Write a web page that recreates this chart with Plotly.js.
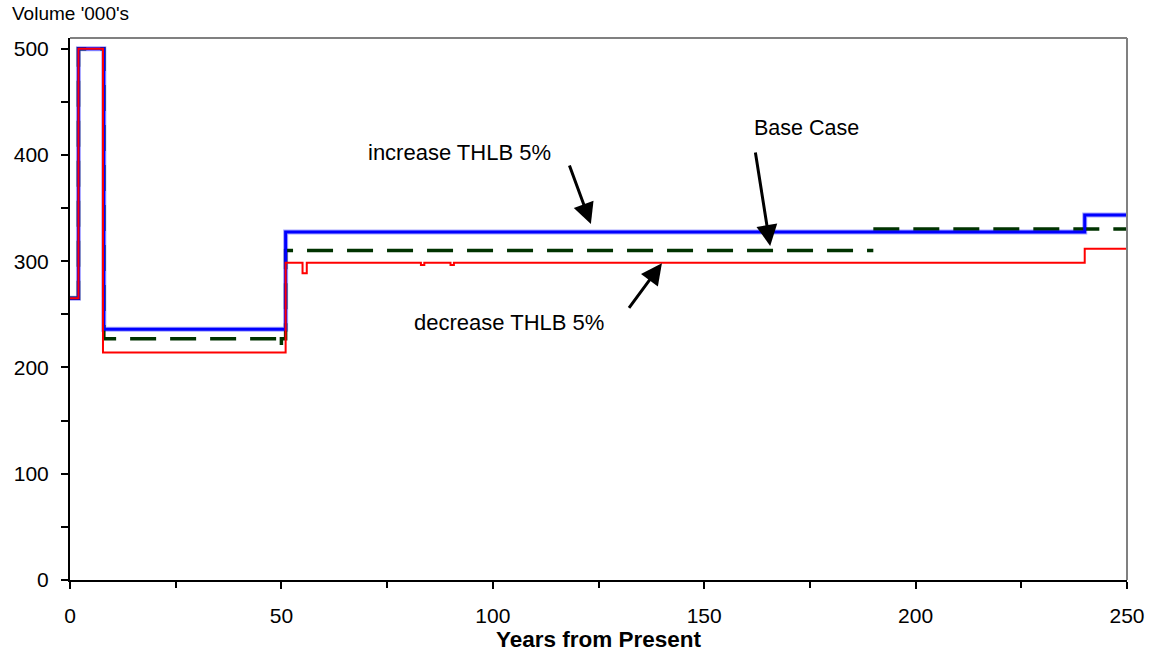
<!DOCTYPE html>
<html>
<head>
<meta charset="utf-8">
<script src="https://cdn.plot.ly/plotly-3.0.1.min.js"></script>
<style>html,body{margin:0;padding:0;background:#fff;}#chart{width:1158px;height:655px;}</style>
</head>
<body>
<div id="chart"></div>
<script>
// Years from present where each series changes level, and the level (Volume '000's)
const yearsIncrease = [0, 2, 8, 51, 240, 250];
const volIncrease   = [265, 500, 236, 327.5, 343.5, 343.5];

const yearsBase = [0, 2, 8, 49.2, 50, 51, 190, 190, 190, 250];
const volBase   = [265, 500, 227, 220, 227, 310, 310, null, 330.3, 330.3];

const yearsDecrease = [0, 2, 7.8, 51, 55, 56, 83, 83.8, 90, 90.8, 240, 250];
const volDecrease   = [265, 500, 214, 298.6, 288.6, 298.6, 296.5, 298.6, 296.5, 298.6, 311.8, 311.8];

const xTickVals = [0, 50, 100, 150, 200, 250];
const yTickVals = [0, 100, 200, 300, 400, 500];

const FONT = '"Liberation Sans", Arial, sans-serif';

const traces = [
  {x: yearsIncrease, y: volIncrease, mode: 'lines', line: {shape: 'hv', color: 'rgba(0,0,255,0.35)', width: 5}, hoverinfo: 'skip', showlegend: false},
  {x: yearsBase, y: volBase, mode: 'lines', name: 'Base Case', connectgaps: false, line: {shape: 'hv', color: '#003300', width: 3.5, dash: '26px,14px'}},
  {x: yearsIncrease, y: volIncrease, mode: 'lines', name: 'increase THLB 5%', line: {shape: 'hv', color: '#0000FF', width: 3}},
  {x: yearsDecrease, y: volDecrease, mode: 'lines', name: 'decrease THLB 5%', line: {shape: 'hv', color: '#FF0000', width: 2}}
];

const arrowStyle = {showarrow: true, arrowhead: 2, arrowsize: 1.4, arrowwidth: 3, arrowcolor: '#000', standoff: 0, text: '', axref: 'pixel', ayref: 'pixel'};

const layout = {
  width: 1158, height: 655,
  margin: {l: 70, r: 31, t: 38, b: 75},
  paper_bgcolor: '#fff', plot_bgcolor: '#fff',
  showlegend: false,
  font: {family: FONT, color: '#000', size: 21},
  xaxis: {
    range: [0, 250], tickvals: xTickVals, ticktext: xTickVals.map(String),
    ticks: 'outside', ticklen: 7, tickwidth: 2, tickcolor: '#000',
    showline: true, linecolor: '#000', linewidth: 2, showgrid: false, zeroline: false,
    ticklabelstandoff: 9,
    tickfont: {size: 21, family: FONT},
    minor: {dtick: 25, tick0: 0, ticks: 'outside', ticklen: 6, tickwidth: 2, tickcolor: '#000', showgrid: false},
    title: {text: '<b>Years from Present</b>', font: {size: 22.5, family: FONT}, standoff: 3}
  },
  yaxis: {
    range: [0, 510], tickvals: yTickVals, ticktext: yTickVals.map(String),
    ticks: 'outside', ticklen: 7, tickwidth: 2, tickcolor: '#000',
    showline: true, linecolor: '#000', linewidth: 2, showgrid: false, zeroline: false,
    ticklabelstandoff: 8,
    tickfont: {size: 21, family: FONT},
    minor: {dtick: 50, tick0: 0, ticks: 'outside', ticklen: 7, tickwidth: 2, tickcolor: '#000', showgrid: false}
  },
  shapes: [
    {type: 'line', xref: 'paper', yref: 'paper', x0: 0, x1: 1, y0: 1, y1: 1, line: {color: '#808080', width: 2}},
    {type: 'line', xref: 'paper', yref: 'paper', x0: 1, x1: 1, y0: 0, y1: 1, line: {color: '#808080', width: 2}}
  ],
  annotations: [
    {xref: 'paper', yref: 'paper', x: -0.0568, y: 1.0443, xanchor: 'left', yanchor: 'middle', text: "Volume '000's", showarrow: false, font: {size: 19, family: FONT}},
    {x: 92.2, y: 402.7, text: 'increase THLB 5%', showarrow: false, font: {size: 22, family: FONT}},
    {x: 174.1, y: 424.9, text: 'Base Case', showarrow: false, font: {size: 21.5, family: FONT}},
    {x: 103.8, y: 242.3, text: 'decrease THLB 5%', showarrow: false, font: {size: 22, family: FONT}},
    Object.assign({x: 123.2, y: 335.0, ax: -22, ay: -60}, arrowStyle),
    Object.assign({x: 165.6, y: 314.3, ax: -15, ay: -95}, arrowStyle),
    Object.assign({x: 140.0, y: 298.0, ax: -34, ay: 46}, arrowStyle)
  ]
};

Plotly.newPlot('chart', traces, layout, {staticPlot: true, displayModeBar: false});
</script>
</body>
</html>
